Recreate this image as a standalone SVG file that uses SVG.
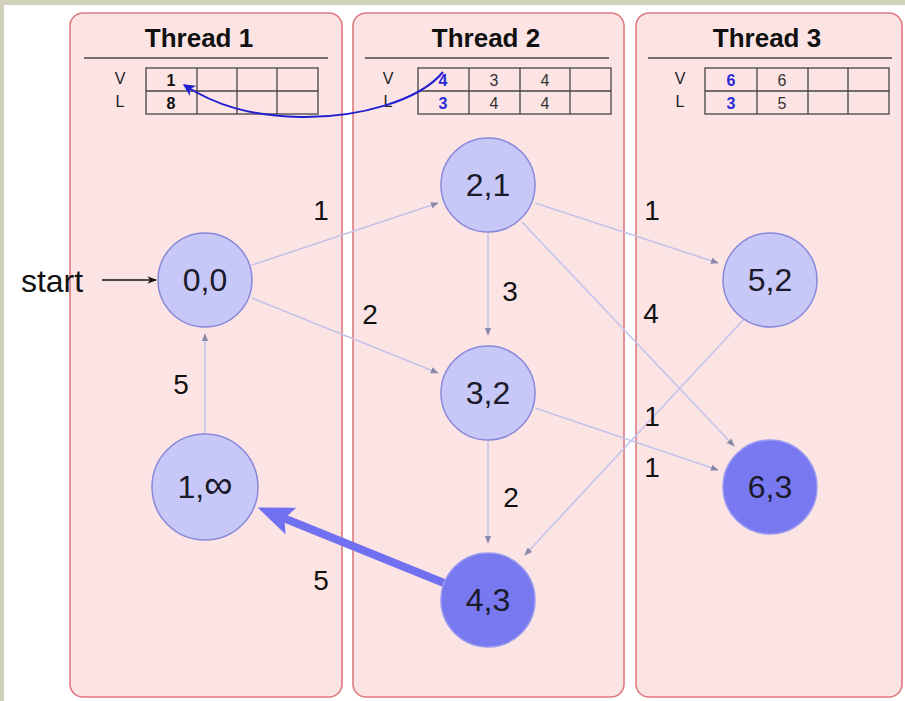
<svg xmlns="http://www.w3.org/2000/svg" width="905" height="701" viewBox="0 0 905 701">
<style>
.panel{fill:#fde4e4;stroke:#de7a7e;stroke-width:1.6}
.title{font-family:"Liberation Sans",Arial,sans-serif;font-weight:bold;font-size:26px;fill:#111;text-anchor:middle}
.rule{stroke:#444;stroke-width:1.5}
.tbl{fill:none;stroke:#444;stroke-width:1.3}
.vl{font-family:"Liberation Sans",Arial,sans-serif;font-size:16px;fill:#222;text-anchor:middle}
.cell{font-family:"Liberation Sans",Arial,sans-serif;font-size:16px;fill:#333;text-anchor:middle}
.b{font-weight:bold;fill:#111}
.blue{font-weight:bold;fill:#2a2ad8}
.light{fill:#c8c8f8;stroke:#8888dc;stroke-width:1.5}
.dark{fill:#7878f0;stroke:#9a9af0;stroke-width:1.5}
.nl{font-family:"Liberation Sans",Arial,sans-serif;font-size:32px;fill:#1a1a2a;text-anchor:middle}
.edge{stroke:#c4c4ea;stroke-width:1.6;fill:none;marker-end:url(#sm)}
.el{font-family:"Liberation Sans",Arial,sans-serif;font-size:28px;fill:#111;text-anchor:middle}
</style>
<defs>
<marker id="sm" viewBox="0 0 10 10" refX="9" refY="5" markerWidth="5" markerHeight="5" orient="auto" markerUnits="strokeWidth">
<path d="M0,1 L10,5 L0,9 z" fill="#8a8aa8"/>
</marker>
<marker id="blk" viewBox="0 0 10 10" refX="9" refY="5" markerWidth="6" markerHeight="6" orient="auto" markerUnits="strokeWidth">
<path d="M0,1 L10,5 L0,9 L3,5 z" fill="#111"/>
</marker>
<marker id="bl" viewBox="0 0 10 10" refX="9" refY="5" markerWidth="6" markerHeight="6" orient="auto" markerUnits="strokeWidth">
<path d="M0,0 L10,5 L0,10 L3,5 z" fill="#2020d0"/>
</marker>
<marker id="thick" viewBox="0 0 10 8" refX="4.5" refY="4" markerWidth="4.5" markerHeight="3.6" orient="auto" markerUnits="strokeWidth">
<path d="M0,0 L10,4 L0,8 L2,4 z" fill="#7070f0"/>
</marker>
</defs>
<rect x="0" y="0" width="905" height="701" fill="#d0d0bb"/>
<rect x="4" y="5" width="901" height="696" fill="#ffffff"/>

<g id="thread1">
<rect class="panel" x="70" y="13" width="272" height="684" rx="13"/>
<text class="title" x="199" y="47">Thread 1</text>
<line class="rule" x1="84" y1="58" x2="328" y2="58"/>
<text class="vl" x="120" y="84">V</text>
<text class="vl" x="120" y="107">L</text>
<rect class="tbl" x="146" y="68" width="172" height="46"/>
<line class="tbl" x1="146" y1="91" x2="318" y2="91"/>
<line class="tbl" x1="197" y1="68" x2="197" y2="114"/>
<line class="tbl" x1="237" y1="68" x2="237" y2="114"/>
<line class="tbl" x1="277" y1="68" x2="277" y2="114"/>
<text class="cell b" x="171" y="86">1</text>
<text class="cell b" x="171" y="109">8</text>
</g>

<g id="thread2">
<rect class="panel" x="353" y="13" width="271" height="684" rx="13"/>
<text class="title" x="486" y="47">Thread 2</text>
<line class="rule" x1="365" y1="58" x2="609" y2="58"/>
<text class="vl" x="388" y="84">V</text>
<text class="vl" x="388" y="107">L</text>
<rect class="tbl" x="418" y="68" width="193" height="46"/>
<line class="tbl" x1="418" y1="91" x2="611" y2="91"/>
<line class="tbl" x1="469" y1="68" x2="469" y2="114"/>
<line class="tbl" x1="520" y1="68" x2="520" y2="114"/>
<line class="tbl" x1="570" y1="68" x2="570" y2="114"/>
<text class="cell blue" x="443" y="86">4</text>
<text class="cell blue" x="443" y="109">3</text>
<text class="cell" x="494" y="86">3</text>
<text class="cell" x="494" y="109">4</text>
<text class="cell" x="545" y="86">4</text>
<text class="cell" x="545" y="109">4</text>
</g>

<g id="thread3">
<rect class="panel" x="636" y="13" width="266" height="684" rx="13"/>
<text class="title" x="767" y="47">Thread 3</text>
<line class="rule" x1="648" y1="58" x2="892" y2="58"/>
<text class="vl" x="680" y="84">V</text>
<text class="vl" x="680" y="107">L</text>
<rect class="tbl" x="705" y="68" width="184" height="46"/>
<line class="tbl" x1="705" y1="91" x2="889" y2="91"/>
<line class="tbl" x1="757" y1="68" x2="757" y2="114"/>
<line class="tbl" x1="808" y1="68" x2="808" y2="114"/>
<line class="tbl" x1="848" y1="68" x2="848" y2="114"/>
<text class="cell blue" x="731" y="86">6</text>
<text class="cell blue" x="731" y="109">3</text>
<text class="cell" x="782" y="86">6</text>
<text class="cell" x="782" y="109">5</text>
</g>

<g id="connectors">
<line x1="102" y1="280" x2="156" y2="280" stroke="#111" stroke-width="1.6" marker-end="url(#blk)"/>
<line class="edge" x1="252" y1="265" x2="438" y2="203"/>
<line class="edge" x1="252" y1="298" x2="438" y2="373"/>
<line class="edge" x1="205" y1="433" x2="205" y2="334"/>
<line class="edge" x1="488" y1="232" x2="488" y2="335"/>
<line class="edge" x1="535" y1="203" x2="718" y2="263"/>
<line class="edge" x1="522" y1="222" x2="734" y2="446"/>
<line class="edge" x1="535" y1="408" x2="718" y2="470"/>
<line class="edge" x1="488" y1="440" x2="488" y2="543"/>
<line class="edge" x1="745" y1="318" x2="525" y2="555"/>
<path d="M444,583 L276,515" stroke="#7070f0" stroke-width="8" fill="none" stroke-linecap="round" marker-end="url(#thick)"/>
<path d="M443,72 C420,100 360,118 300,117 C250,116 215,105 184,85" stroke="#2020d0" stroke-width="2" fill="none" marker-end="url(#bl)"/>
<text class="el" x="321" y="220">1</text>
<text class="el" x="370" y="324">2</text>
<text class="el" x="181" y="394">5</text>
<text class="el" x="510" y="301">3</text>
<text class="el" x="652" y="220">1</text>
<text class="el" x="651" y="323">4</text>
<text class="el" x="652" y="426">1</text>
<text class="el" x="652" y="477">1</text>
<text class="el" x="511" y="507">2</text>
<text class="el" x="321" y="590">5</text>
<text x="52" y="292" font-family="Liberation Sans,Arial,sans-serif" font-size="32" fill="#111" text-anchor="middle">start</text>
</g>

<g id="n00"><circle class="light" cx="205" cy="280" r="47"/><text class="nl" x="205" y="291">0,0</text></g>
<g id="n21"><circle class="light" cx="488" cy="185" r="47"/><text class="nl" x="488" y="196">2,1</text></g>
<g id="n32"><circle class="light" cx="488" cy="393" r="47"/><text class="nl" x="488" y="404">3,2</text></g>
<g id="n52"><circle class="light" cx="770" cy="280" r="47"/><text class="nl" x="770" y="291">5,2</text></g>
<g id="n63"><circle class="dark" cx="770" cy="487" r="47"/><text class="nl" x="770" y="498">6,3</text></g>
<g id="n43"><circle class="dark" cx="488" cy="600" r="47"/><text class="nl" x="488" y="611">4,3</text></g>
<g id="n1inf"><circle class="light" cx="205" cy="487" r="53"/><text class="nl" x="205" y="498">1,<tspan font-size="40">∞</tspan></text></g>
</svg>
